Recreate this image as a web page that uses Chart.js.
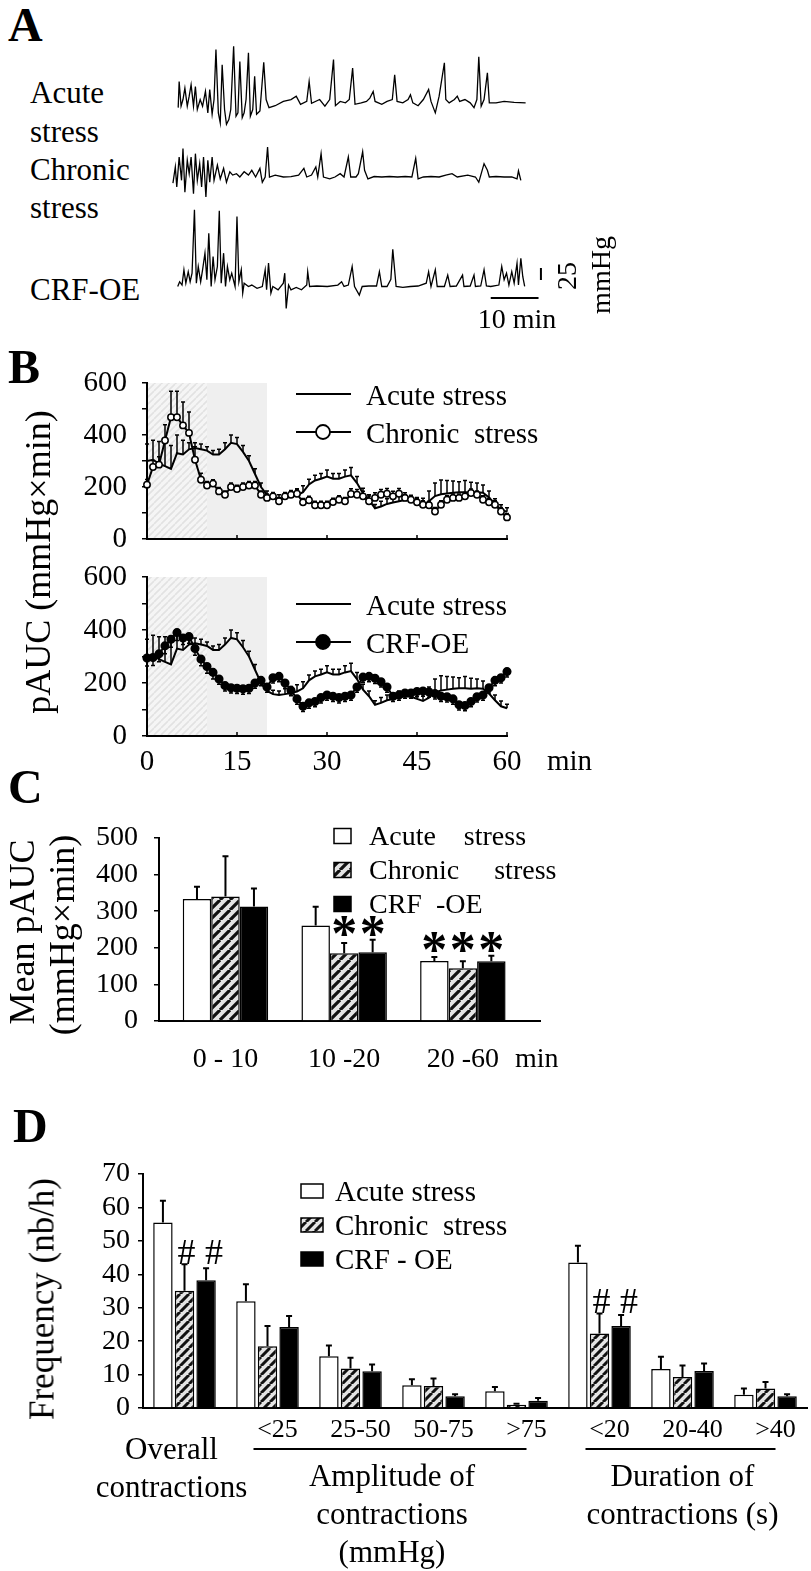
<!DOCTYPE html>
<html>
<head>
<meta charset="utf-8">
<title>Colonic motility: pAUC and contraction frequency</title>
<script src="https://cdn.jsdelivr.net/npm/chart.js@4.4.1/dist/chart.umd.min.js"></script>
<style>
  html, body { margin: 0; padding: 0; background: #fff; }
  body { position: relative; width: 811px; height: 1571px; overflow: hidden;
         font-family: 'Liberation Serif', 'Times New Roman', Times, serif; color: #000; }
  canvas { position: absolute; }
  .txt { position: absolute; white-space: pre; line-height: 1; }
</style>
</head>
<body>
<canvas id="traceAcute" width="400" height="120" style="left:150px;top:30px"></canvas>
<canvas id="traceChronic" width="400" height="80" style="left:150px;top:130px"></canvas>
<canvas id="traceCrf" width="400" height="140" style="left:150px;top:190px"></canvas>
<canvas id="pAucChronic" width="600" height="180" style="left:0;top:370px"></canvas>
<canvas id="pAucCrf" width="600" height="230" style="left:0;top:560px"></canvas>
<canvas id="meanPAuc" width="600" height="270" style="left:0;top:820px"></canvas>
<canvas id="frequency" width="811" height="421" style="left:0;top:1150px"></canvas>
<script>
// ---- A: raw pressure traces (time in min, pressure in mmHg above baseline)
const acuteTraceT = [0.1,0.3,0.7,1.1,1.5,2.0,2.4,2.8,3.3,3.7,4.1,4.7,5.2,5.8,6.3,6.7,7.2,7.6,8.0,8.5,8.9,9.3,9.8,10.2,10.7,11.1,11.7,12.2,12.6,13.0,13.5,13.9,14.3,14.8,15.2,15.7,16.1,16.5,17.2,18.0,18.5,19.1,20.4,22.1,23.7,24.8,25.7,27.0,27.5,28.0,29.7,30.8,31.8,32.6,33.0,34.0,35.1,35.9,36.6,37.1,38.4,39.5,40.2,40.9,41.3,42.7,43.8,44.9,45.4,45.9,47.1,48.2,48.7,49.2,50.3,51.4,52.5,53.0,53.9,54.7,55.8,56.1,56.8,57.9,58.5,59.0,60.1,61.2,62.0,62.6,63.0,63.5,64.1,64.8,65.2,66.6,68.3,70.4,72.8];
const acuteTraceP = [-10,45,-7,7,31,-7,14,38,-7,34,-14,7,-7,24,-21,28,-24,7,112,-21,-42,80,-14,-45,-35,-14,119,-28,-21,87,-31,-21,7,105,-28,-14,56,-24,-17,85,7,-10,-6,3,7,14,-3,3,45,-1,7,-7,7,91,-6,3,0,7,73,-3,0,3,10,24,3,-3,3,7,59,3,0,7,17,0,-6,7,28,3,-21,14,84,7,0,7,14,3,7,0,-10,7,97,-7,7,63,0,0,3,1,0];

const chronicTraceT = [-1.0,-0.5,-0.2,0.3,0.8,1.1,1.5,2.0,2.4,2.8,3.3,3.7,4.1,4.6,5.0,5.4,5.9,6.3,6.7,7.2,7.6,8.3,8.9,9.6,10.2,10.9,11.5,12.3,13.0,13.9,14.8,15.5,16.3,17.2,17.7,18.3,18.8,19.2,20.4,22.1,23.7,25.3,26.4,27.0,28.0,28.9,29.3,30.0,30.5,31.8,32.9,34.0,34.8,35.7,36.2,37.3,37.8,38.7,39.1,39.8,41.1,42.7,44.3,46.0,47.6,49.0,49.8,50.3,51.4,53.0,54.7,56.1,57.4,58.5,60.7,62.3,63.0,64.1,64.8,65.2,66.6,68.3,69.9,71.0,71.3,71.8];
const chronicTraceP = [-13,21,-21,42,-7,60,-32,35,7,42,-35,49,-7,28,-21,42,-42,35,-11,42,-7,25,-4,18,-11,11,4,7,0,11,4,14,0,18,-11,0,63,0,4,0,1,4,18,0,4,21,0,49,0,-4,0,7,0,42,0,0,7,53,14,-4,1,0,1,0,1,0,39,-4,0,1,0,4,7,0,4,0,-11,28,14,0,1,0,0,-4,13,-7];

const crfTraceT = [0.0,0.4,0.9,1.3,1.7,2.2,2.6,3.0,3.5,3.9,4.3,4.8,5.2,5.7,6.1,6.5,7.0,7.4,7.8,8.3,8.7,9.1,9.6,10.0,10.4,10.9,11.3,12.0,12.4,12.8,13.3,13.6,13.9,14.8,15.5,16.6,17.7,18.3,18.6,19.0,19.5,19.9,21.0,22.1,22.4,22.7,23.2,23.7,24.8,25.9,27.0,27.2,27.6,29.1,31.3,33.5,34.3,34.8,35.7,36.5,37.0,38.0,38.6,40.0,41.6,42.2,42.7,43.8,44.6,45.0,45.7,47.1,48.7,50.3,52.0,52.5,53.0,53.9,54.3,55.8,56.5,57.0,58.3,59.6,59.9,61.2,62.0,62.3,63.4,64.1,64.6,65.5,67.2,67.8,68.3,68.8,69.3,69.9,70.4,71.0,71.3,71.8,72.2,72.6];
const crfTraceP = [-1,9,2,34,6,30,9,27,160,6,41,9,34,69,13,111,-1,62,13,41,158,6,69,-1,41,13,27,-1,146,9,34,-15,6,-1,2,-5,-1,34,-8,48,-15,-1,-8,6,27,-47,2,-8,-3,-8,2,30,-1,0,-1,2,9,-1,2,41,-1,-19,-1,0,0,30,-1,-1,14,77,-1,-3,-1,0,6,30,-1,34,-1,-1,23,-1,0,23,-1,0,23,-1,0,34,0,-1,2,41,13,27,2,30,6,48,2,58,20,-1];

// scale bars: 10 min and 25 mmHg
const timeBarMin = [65.5, 75.5];
const timeBarLevel = -25;
const pressureBarAt = 76;
const pressureBarMmHg = [12.6, 37.6];

// ---- B: pAUC per minute
const minutes = [0,1,2,3,4,5,6,7,8,9,10,11,12,13,14,15,16,17,18,19,20,21,22,23,24,25,26,27,28,29,30,31,32,33,34,35,36,37,38,39,40,41,42,43,44,45,46,47,48,49,50,51,52,53,54,55,56,57,58,59,60];
const stressPhases = [0, 10, 20];

const acutePAUC = [300,305,290,280,270,330,325,345,350,345,340,325,325,345,370,365,335,300,250,200,170,158,155,158,162,168,180,210,225,232,240,232,232,240,245,215,175,150,118,125,135,140,145,150,148,140,132,145,165,172,175,178,180,180,178,180,178,160,135,112,105];
const acuteSEM = [65,75,85,95,90,70,55,25,20,20,15,15,20,25,30,25,25,20,20,15,15,15,15,20,25,25,25,20,20,20,25,20,20,25,30,25,20,20,15,20,20,20,25,20,20,20,25,40,50,55,50,45,40,45,40,35,30,25,20,20,15];

const chronicPAUC = [209,277,286,379,468,468,437,408,305,228,206,213,183,170,200,192,200,206,206,170,158,164,145,164,170,174,141,149,130,130,130,142,151,145,173,170,164,145,158,170,174,164,174,158,151,141,132,130,106,132,151,158,158,164,177,170,151,141,132,106,83];
const chronicSEM = [20,25,30,60,100,100,90,80,50,25,15,15,15,15,15,15,15,15,15,15,15,15,15,15,15,15,15,15,15,15,15,15,15,15,20,20,20,20,20,20,20,20,20,20,15,15,15,15,15,15,15,15,15,15,15,15,15,15,15,15,15];

const crfPAUC = [294,296,310,340,365,390,370,375,330,290,262,240,215,190,182,180,178,180,200,210,185,220,225,200,172,140,112,125,130,145,155,150,145,150,155,185,222,225,218,205,185,150,155,162,162,168,170,166,160,150,148,140,118,115,130,148,155,182,210,220,243];
const crfSEM = [30,30,30,30,30,30,25,25,25,25,25,25,20,20,20,20,20,20,20,20,20,20,20,20,20,20,20,20,20,20,20,20,20,20,20,20,20,20,20,20,20,20,20,20,20,20,20,20,20,20,20,20,20,20,20,20,20,20,20,20,20];

// ---- C: mean pAUC per period
const cGroups = ['0 - 10', '10 -20', '20 -60'];
const cAcute = [333, 261, 164];
const cAcuteSEM = [34, 51, 11];
const cChronic = [340, 185, 144];
const cChronicSEM = [110, 28, 19];
const cCrf = [313, 188, 163];
const cCrfSEM = [49, 34, 15];
const cAcuteStars = [0, 0, 1];
const cChronicStars = [0, 1, 1];
const cCrfStars = [0, 1, 1];

// ---- D: contraction frequency
const dCategories = ['Overall contractions', '<25', '25-50', '50-75', '>75', '<20', '20-40', '>40'];
const dAcute = [55.5, 31.9, 15.5, 6.8, 5.0, 43.5, 11.7, 4.0];
const dAcuteSEM = [6.5, 5.1, 3.2, 1.8, 1.3, 5.0, 3.6, 1.8];
const dChronic = [35.1, 18.5, 11.8, 6.6, 1.0, 22.3, 9.3, 5.8];
const dChronicSEM = [7.9, 6.0, 3.2, 2.2, 0.3, 6.0, 3.4, 2.0];
const dCrf = [38.2, 24.2, 11.0, 3.5, 2.2, 24.5, 11.1, 3.5];
const dCrfSEM = [3.6, 3.3, 2.0, 0.6, 0.8, 3.3, 2.2, 0.6];
const dAcuteHash = [0, 0, 0, 0, 0, 0, 0, 0];
const dChronicHash = [1, 0, 0, 0, 0, 1, 0, 0];
const dCrfHash = [1, 0, 0, 0, 0, 1, 0, 0];
const dGroupTitles = [
  { lines: ['Amplitude of', 'contractions', '(mmHg)'], from: 1, to: 4 },
  { lines: ['Duration of', 'contractions (s)'], from: 5, to: 7 }
];

const FONT = "'Liberation Serif', 'Times New Roman', Times, serif";
Chart.defaults.font.family = FONT;
Chart.defaults.color = '#000';
Chart.defaults.animation = false;
Chart.defaults.events = [];
Chart.defaults.plugins.legend.display = false;
Chart.defaults.plugins.tooltip.enabled = false;

// html text outside the plot areas
function addText(str, x, y, size, o = {}) {
  const d = document.createElement('div');
  d.className = 'txt';
  d.textContent = str;
  d.style.fontSize = size + 'px';
  if (o.bold) d.style.fontWeight = 'bold';
  d.style.left = x + 'px';
  if (o.rot) {
    d.style.top = y + 'px';
    d.style.transform = `translate(-50%, -50%) rotate(${o.rot}deg)`;
  } else {
    d.style.top = (y - 0.8375 * size) + 'px';
    if (o.align === 'center') d.style.transform = 'translateX(-50%)';
  }
  document.body.appendChild(d);
}

addText('A', 8, 41, 48, { bold: true });
addText('Acute', 30, 103, 31);
addText('stress', 30, 142, 31);
addText('Chronic', 30, 180, 31);
addText('stress', 30, 218, 31);
addText('CRF-OE', 30, 300, 31);
addText('10 min', 517, 328, 28, { align: 'center' });
addText('25', 567, 276, 28, { rot: -90 });
addText('mmHg', 601, 275, 28, { rot: -90 });
addText('B', 8, 383, 48, { bold: true });
addText('pAUC (mmHg×min)', 38, 562, 36, { rot: -90 });
addText('C', 8, 803, 48, { bold: true });
addText('Mean pAUC', 22, 932, 36, { rot: -90 });
addText('(mmHg×min)', 62, 935, 36, { rot: -90 });
addText('D', 13, 1142, 48, { bold: true });
addText('Frequency (nb/h)', 42, 1299, 35, { rot: -90 });

function makeHatch(ctx, bg, fg, lw, size) {
  const tile = document.createElement('canvas');
  tile.width = tile.height = size;
  const g = tile.getContext('2d');
  g.fillStyle = bg;
  g.fillRect(0, 0, size, size);
  g.strokeStyle = fg;
  g.lineWidth = lw;
  g.beginPath();
  for (const k of [-1, 0, 1]) {
    g.moveTo(k * size, size);
    g.lineTo(k * size + size, 0);
  }
  g.stroke();
  return ctx.createPattern(tile, 'repeat');
}

// keep axis boxes at fixed sizes so plot areas line up with the figure
const fixWidth = w => s => { s.width = w; s.paddingTop = 0; s.paddingBottom = 0; };
const fixHeight = h => s => { s.height = h; s.paddingLeft = 0; s.paddingRight = 0; };
const axisBorder = { color: '#000', width: 2 };

// ---- A
const scaleBarsPlugin = {
  id: 'scaleBars',
  afterDatasetsDraw(chart) {
    const { ctx, scales: { x, y } } = chart;
    ctx.save();
    ctx.strokeStyle = '#000';
    ctx.lineWidth = 2;
    ctx.beginPath();
    ctx.moveTo(x.getPixelForValue(timeBarMin[0]), y.getPixelForValue(timeBarLevel));
    ctx.lineTo(x.getPixelForValue(timeBarMin[1]), y.getPixelForValue(timeBarLevel));
    ctx.moveTo(x.getPixelForValue(pressureBarAt), y.getPixelForValue(pressureBarMmHg[0]));
    ctx.lineTo(x.getPixelForValue(pressureBarAt), y.getPixelForValue(pressureBarMmHg[1]));
    ctx.stroke();
    ctx.restore();
  }
};

function traceChart(id, t, p, yMin, yMax, withBars) {
  return new Chart(document.getElementById(id), {
    type: 'line',
    data: {
      datasets: [{
        data: t.map((v, i) => ({ x: v, y: p[i] })),
        borderColor: '#000',
        borderWidth: 1.3,
        pointRadius: 0,
        tension: 0
      }]
    },
    options: {
      responsive: false,
      scales: {
        x: { type: 'linear', min: -5.8, max: 77.9, display: false },
        y: { min: yMin, max: yMax, display: false }
      }
    },
    plugins: withBars ? [scaleBarsPlugin] : []
  });
}

traceChart('traceAcute', acuteTraceT, acuteTraceP, -99, 153, false);
traceChart('traceChronic', chronicTraceT, chronicTraceP, -69.3, 98.7, false);
traceChart('traceCrf', crfTraceT, crfTraceP, -92.4, 201.7, true);

// ---- B
const toXY = vals => minutes.map((m, i) => ({ x: m, y: vals[i] }));

const phasesPlugin = {
  id: 'phases',
  beforeDraw(chart, args, o) {
    const { ctx, scales: { x, y } } = chart;
    const top = y.getPixelForValue(y.max);
    const bot = y.getPixelForValue(0);
    const x0 = x.getPixelForValue(stressPhases[0]);
    const x1 = x.getPixelForValue(stressPhases[1]);
    const x2 = x.getPixelForValue(stressPhases[2]);
    ctx.save();
    ctx.fillStyle = o.hatch;
    ctx.fillRect(x0, top, x1 - x0, bot - top);
    ctx.fillStyle = '#efefef';
    ctx.fillRect(x1, top, x2 - x1, bot - top);
    ctx.restore();
  }
};

const semPlugin = {
  id: 'sem',
  beforeDatasetsDraw(chart) {
    const { ctx, scales: { x, y } } = chart;
    ctx.save();
    ctx.strokeStyle = '#000';
    ctx.lineWidth = 1.5;
    chart.data.datasets.forEach(ds => {
      ds.data.forEach((pt, i) => {
        const px = x.getPixelForValue(pt.x);
        const y0 = y.getPixelForValue(pt.y);
        const y1 = y.getPixelForValue(pt.y + ds.semDir * ds.sem[i]);
        ctx.beginPath();
        ctx.moveTo(px, y0);
        ctx.lineTo(px, y1);
        ctx.moveTo(px - 2, y1);
        ctx.lineTo(px + 2, y1);
        ctx.stroke();
      });
    });
    ctx.restore();
  }
};

const innerTicksPlugin = {
  id: 'innerTicks',
  afterDraw(chart, args, o) {
    const { ctx, scales: { x }, chartArea } = chart;
    ctx.save();
    ctx.strokeStyle = '#000';
    ctx.lineWidth = 1.5;
    x.ticks.forEach(t => {
      const px = x.getPixelForValue(t.value);
      ctx.beginPath();
      ctx.moveTo(px, chartArea.bottom);
      ctx.lineTo(px, chartArea.bottom - 4);
      ctx.stroke();
    });
    if (o.unit) {
      ctx.font = `29px ${FONT}`;
      ctx.fillStyle = '#000';
      ctx.textBaseline = 'middle';
      ctx.textAlign = 'left';
      ctx.fillText(o.unit, x.getPixelForValue(x.max) + 40, chartArea.bottom + 26);
    }
    ctx.restore();
  }
};

const lineLegendPlugin = {
  id: 'lineLegend',
  afterDraw(chart, args, o) {
    const ctx = chart.ctx;
    ctx.save();
    ctx.font = `29px ${FONT}`;
    ctx.textBaseline = 'middle';
    ctx.textAlign = 'left';
    ctx.strokeStyle = '#000';
    ctx.fillStyle = '#000';
    const items = [chart.data.datasets[1], chart.data.datasets[0]];
    items.forEach((ds, k) => {
      const y = o.y + k * o.gap;
      ctx.lineWidth = 2;
      ctx.beginPath();
      ctx.moveTo(o.x, y);
      ctx.lineTo(o.x + 55, y);
      ctx.stroke();
      if (ds.pointRadius > 0) {
        ctx.beginPath();
        ctx.arc(o.x + 27, y, 7, 0, Math.PI * 2);
        ctx.fillStyle = ds.pointBackgroundColor;
        ctx.fill();
        ctx.lineWidth = 1.8;
        ctx.stroke();
      }
      ctx.fillStyle = '#000';
      ctx.fillText(ds.label, o.x + 70, y + 3);
    });
    ctx.restore();
  }
};

function pAucChart(id, other, opt) {
  const ctx = document.getElementById(id).getContext('2d');
  return new Chart(ctx, {
    type: 'line',
    data: {
      datasets: [
        {
          label: other.label, data: toXY(other.vals), sem: other.sem, semDir: other.dir,
          borderColor: '#000', borderWidth: 2, tension: 0, clip: false,
          pointRadius: other.r, pointBorderWidth: 1.5, pointBorderColor: '#000',
          pointBackgroundColor: other.fill
        },
        {
          label: 'Acute stress', data: toXY(acutePAUC), sem: acuteSEM, semDir: 1,
          borderColor: '#000', borderWidth: 2, tension: 0, pointRadius: 0, clip: false
        }
      ]
    },
    options: {
      responsive: false,
      layout: { padding: { left: 0, top: opt.top, right: 93, bottom: 0 } },
      scales: {
        x: {
          type: 'linear', min: 0, max: 60,
          afterFit: fixHeight(opt.xh),
          ticks: { stepSize: 15, display: opt.labels, font: { size: 29 }, padding: 9, maxRotation: 0 },
          grid: { display: false, drawTicks: false },
          border: axisBorder
        },
        y: {
          min: 0, max: 600,
          afterFit: fixWidth(147),
          ticks: { stepSize: 100, autoSkip: false, callback: v => (v % 200 === 0 ? v : ''), font: { size: 29 }, padding: 15 },
          grid: { drawOnChartArea: false, tickLength: 5, color: '#000', lineWidth: 1.5 },
          border: axisBorder
        }
      },
      plugins: {
        phases: { hatch: makeHatch(ctx, '#f5f5f5', '#e2e2e2', 1.6, 7) },
        lineLegend: { x: 296, y: opt.legY, gap: 38 },
        innerTicks: { unit: opt.labels ? 'min' : '' }
      }
    },
    plugins: [phasesPlugin, semPlugin, innerTicksPlugin, lineLegendPlugin]
  });
}

pAucChart('pAucChronic',
  { label: 'Chronic  stress', vals: chronicPAUC, sem: chronicSEM, dir: 1, r: 3.2, fill: '#fff' },
  { top: 13, xh: 11, labels: false, legY: 24 });
pAucChart('pAucCrf',
  { label: 'CRF-OE', vals: crfPAUC, sem: crfSEM, dir: -1, r: 3.8, fill: '#000' },
  { top: 17, xh: 54, labels: true, legY: 44 });

// ---- C and D: bars
const barNotesPlugin = {
  id: 'barNotes',
  afterDatasetsDraw(chart, args, o) {
    const { ctx, scales: { y } } = chart;
    const sets = chart.data.datasets;
    const metas = sets.map((_, di) => chart.getDatasetMeta(di));
    ctx.save();
    ctx.strokeStyle = '#000';
    ctx.lineWidth = 2;
    sets.forEach((ds, di) => {
      metas[di].data.forEach((bar, i) => {
        const yTop = y.getPixelForValue(ds.vals[i] + ds.errs[i]);
        ctx.beginPath();
        ctx.moveTo(bar.x, bar.y);
        ctx.lineTo(bar.x, yTop);
        ctx.moveTo(bar.x - 3, yTop);
        ctx.lineTo(bar.x + 3, yTop);
        ctx.stroke();
      });
    });
    ctx.font = o.font;
    ctx.fillStyle = '#000';
    ctx.textAlign = 'center';
    ctx.textBaseline = 'alphabetic';
    sets[0].vals.forEach((_, i) => {
      let rowY = Infinity;
      sets.forEach(ds => {
        if (ds.marks[i]) rowY = Math.min(rowY, y.getPixelForValue(ds.vals[i] + ds.errs[i]));
      });
      if (rowY === Infinity) return;
      sets.forEach((ds, di) => {
        if (ds.marks[i]) ctx.fillText(o.symbol, metas[di].data[i].x + o.dx[di], rowY - o.lift + o.shift);
      });
    });
    ctx.restore();
  }
};

const boxLegendPlugin = {
  id: 'boxLegend',
  afterDraw(chart, args, o) {
    const ctx = chart.ctx;
    ctx.save();
    ctx.font = `${o.size}px ${FONT}`;
    ctx.textBaseline = 'middle';
    ctx.textAlign = 'left';
    chart.data.datasets.forEach((ds, k) => {
      const y = o.y + k * o.gap;
      ctx.fillStyle = ds.backgroundColor;
      ctx.fillRect(o.x, y - o.h / 2, o.w, o.h);
      ctx.strokeStyle = '#000';
      ctx.lineWidth = 1.5;
      ctx.strokeRect(o.x, y - o.h / 2, o.w, o.h);
      ctx.fillStyle = '#000';
      ctx.fillText(ds.label, o.x + o.w + o.gapText, y + 2);
    });
    ctx.restore();
  }
};

function barSet(label, data, vals, errs, marks, fill, catPct, barPct) {
  return {
    label, data, vals, errs, marks,
    backgroundColor: fill, borderColor: '#000', borderWidth: 1.5,
    categoryPercentage: catPct, barPercentage: barPct
  };
}

// C
const cCtx = document.getElementById('meanPAuc').getContext('2d');
const cHatch = makeHatch(cCtx, '#e4e4e4', '#111', 3.2, 10);
const cUnitPlugin = {
  id: 'cUnit',
  afterDraw(chart) {
    const { ctx, scales: { x }, chartArea } = chart;
    ctx.save();
    ctx.font = `28px ${FONT}`;
    ctx.fillStyle = '#000';
    ctx.textBaseline = 'middle';
    ctx.textAlign = 'left';
    const last = cGroups.length - 1;
    const w = ctx.measureText(cGroups[last]).width;
    ctx.fillText('min', x.getPixelForValue(last) + w / 2 + 16, chartArea.bottom + 39);
    ctx.restore();
  }
};
new Chart(cCtx, {
  type: 'bar',
  data: {
    datasets: [
      barSet('Acute    stress', cAcute.map((v, i) => ({ x: i, y: v })), cAcute, cAcuteSEM, cAcuteStars, '#fff', 0.72, 1),
      barSet('Chronic     stress', cChronic.map((v, i) => ({ x: i, y: v })), cChronic, cChronicSEM, cChronicStars, cHatch, 0.72, 1),
      barSet('CRF  -OE', cCrf.map((v, i) => ({ x: i, y: v })), cCrf, cCrfSEM, cCrfStars, '#000', 0.72, 1)
    ]
  },
  options: {
    responsive: false,
    layout: { padding: { left: 0, top: 18, right: 60, bottom: 0 } },
    scales: {
      x: {
        type: 'linear', offset: false, min: -0.56, max: 2.65,
        afterBuildTicks: s => { s.ticks = cGroups.map((_, i) => ({ value: i })); },
        afterFit: fixHeight(69),
        ticks: { callback: v => cGroups[v], font: { size: 28 }, padding: 22, maxRotation: 0, autoSkip: false },
        grid: { display: false, drawTicks: false },
        border: axisBorder
      },
      y: {
        min: 0, max: 500,
        afterFit: fixWidth(159),
        ticks: { stepSize: 100, autoSkip: false, font: { size: 28 }, padding: 16 },
        grid: { drawOnChartArea: false, tickLength: 5, color: '#000', lineWidth: 1.5 },
        border: axisBorder
      }
    },
    plugins: {
      barNotes: { symbol: '*', font: `bold 52px ${FONT}`, lift: 13, shift: 24, dx: [0, 0, 0] },
      boxLegend: { x: 334, y: 16, gap: 34, w: 17, h: 15, gapText: 18, size: 28 }
    }
  },
  plugins: [barNotesPlugin, boxLegendPlugin, cUnitPlugin]
});

// D
const dCtx = document.getElementById('frequency').getContext('2d');
const dHatch = makeHatch(dCtx, '#e4e4e4', '#111', 3, 9);
const dAxisLabelsPlugin = {
  id: 'dAxisLabels',
  afterDraw(chart) {
    const { ctx, scales: { x }, chartArea } = chart;
    const b = chartArea.bottom;
    ctx.save();
    ctx.fillStyle = '#000';
    ctx.strokeStyle = '#000';
    ctx.textAlign = 'center';
    ctx.textBaseline = 'middle';
    ctx.font = `26px ${FONT}`;
    dCategories.forEach((lab, i) => {
      if (i === 0) return;
      ctx.fillText(lab, x.getPixelForValue(i) + 10, b + 22);
    });
    ctx.font = `31px ${FONT}`;
    const first = dCategories[0].split(' ');
    ctx.fillText(first[0], x.getPixelForValue(0) - 13, b + 43);
    ctx.fillText(first[1], x.getPixelForValue(0) - 13, b + 81);
    ctx.lineWidth = 2;
    dGroupTitles.forEach(g => {
      const x0 = x.getPixelForValue(g.from) - 14;
      const x1 = x.getPixelForValue(g.to) + 10;
      ctx.beginPath();
      ctx.moveTo(x0, b + 41);
      ctx.lineTo(x1, b + 41);
      ctx.stroke();
      const cx = (x.getPixelForValue(g.from) + x.getPixelForValue(g.to)) / 2;
      g.lines.forEach((ln, k) => ctx.fillText(ln, cx, b + 70 + k * 38));
    });
    ctx.restore();
  }
};
new Chart(dCtx, {
  type: 'bar',
  data: {
    labels: dCategories,
    datasets: [
      barSet('Acute stress', dAcute, dAcute, dAcuteSEM, dAcuteHash, '#fff', 0.78, 0.9),
      barSet('Chronic  stress', dChronic, dChronic, dChronicSEM, dChronicHash, dHatch, 0.78, 0.9),
      barSet('CRF - OE', dCrf, dCrf, dCrfSEM, dCrfHash, '#000', 0.78, 0.9)
    ]
  },
  options: {
    responsive: false,
    layout: { padding: { left: 0, top: 24, right: 4, bottom: 0 } },
    scales: {
      x: {
        afterFit: fixHeight(163),
        ticks: { display: false },
        grid: { display: false, drawTicks: false },
        border: axisBorder
      },
      y: {
        min: 0, max: 70,
        afterFit: fixWidth(143),
        ticks: { stepSize: 10, autoSkip: false, font: { size: 28 }, padding: 8 },
        grid: { drawOnChartArea: false, tickLength: 5, color: '#000', lineWidth: 1.5 },
        border: axisBorder
      }
    },
    plugins: {
      barNotes: { symbol: '#', font: `36px ${FONT}`, lift: 12, shift: 12, dx: [0, 2, 8] },
      boxLegend: { x: 301, y: 41, gap: 34, w: 22, h: 14, gapText: 12, size: 29 }
    }
  },
  plugins: [barNotesPlugin, boxLegendPlugin, dAxisLabelsPlugin]
});
</script>
</body>
</html>
